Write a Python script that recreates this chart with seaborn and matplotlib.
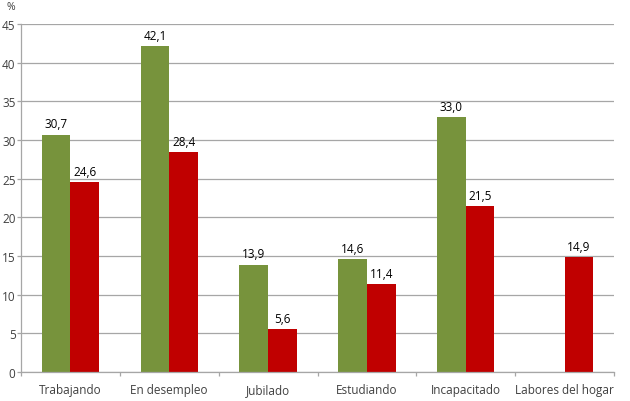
import matplotlib
matplotlib.use("Agg")
import matplotlib.pyplot as plt
import numpy as np
import pandas as pd
import seaborn as sns

categories = ["Trabajando", "En desempleo", "Jubilado", "Estudiando", "Incapacitado", "Labores del hogar"]
green_values = [30.7, 42.1, 13.9, 14.6, 33.0, np.nan]
red_values = [24.6, 28.4, 5.6, 11.4, 21.5, 14.9]
series_names = ["Serie 1", "Serie 2"]
y_ticks = list(range(0, 50, 5))


def main() -> None:
    df = pd.DataFrame({
        "categoria": categories * 2,
        "serie": [series_names[0]] * len(categories) + [series_names[1]] * len(categories),
        "valor": green_values + red_values,
    })

    sns.set_style("white")
    plt.rcParams["font.family"] = ["Open Sans", "DejaVu Sans"]

    fig = plt.figure(figsize=(6.3, 4.02), dpi=100)
    ax = fig.add_axes([21 / 630, 1 - 373 / 402, 593 / 630, 348 / 402])

    sns.barplot(data=df, x="categoria", y="valor", hue="serie", order=categories,
                hue_order=series_names, palette=["#77933C", "#C00000"],
                width=0.58, saturation=1, linewidth=0, legend=False, ax=ax)

    for container in ax.containers:
        labels = []
        for bar in container:
            h = bar.get_height()
            labels.append("" if np.isnan(h) else f"{h:.1f}".replace(".", ","))
        ax.bar_label(container, labels=labels, padding=3, fontsize=8.5, color="#000000")

    ax.set_ylim(0, 45)
    ax.set_yticks(y_ticks)
    ax.set_xlim(-0.5, len(categories) - 0.5)
    ax.yaxis.grid(True, color="#A6A6A6", linewidth=0.9)
    ax.set_axisbelow(True)
    ax.set_xlabel("")
    ax.set_ylabel("")

    for side in ["top", "right"]:
        ax.spines[side].set_visible(False)
    for side in ["left", "bottom"]:
        ax.spines[side].set_color("#A6A6A6")
        ax.spines[side].set_linewidth(0.9)

    ax.set_xticks(np.arange(len(categories)))
    ax.set_xticklabels(categories)
    ax.tick_params(axis="x", length=0, labelsize=8.5, labelcolor="#404040", pad=8)
    ax.tick_params(axis="y", length=3, width=0.9, color="#A6A6A6", labelsize=8.5,
                   labelcolor="#404040", pad=1, left=True)
    ax.set_xticks(np.arange(len(categories) + 1) - 0.5, minor=True)
    ax.tick_params(axis="x", which="minor", length=3, width=0.9, color="#A6A6A6", bottom=True)

    fig.text(11 / 630, 1 - 8 / 402, "%", fontsize=7.5, color="#404040", ha="center", va="center")

    fig.savefig("out.png", dpi=100)
    plt.close(fig)


if __name__ == "__main__":
    main()
